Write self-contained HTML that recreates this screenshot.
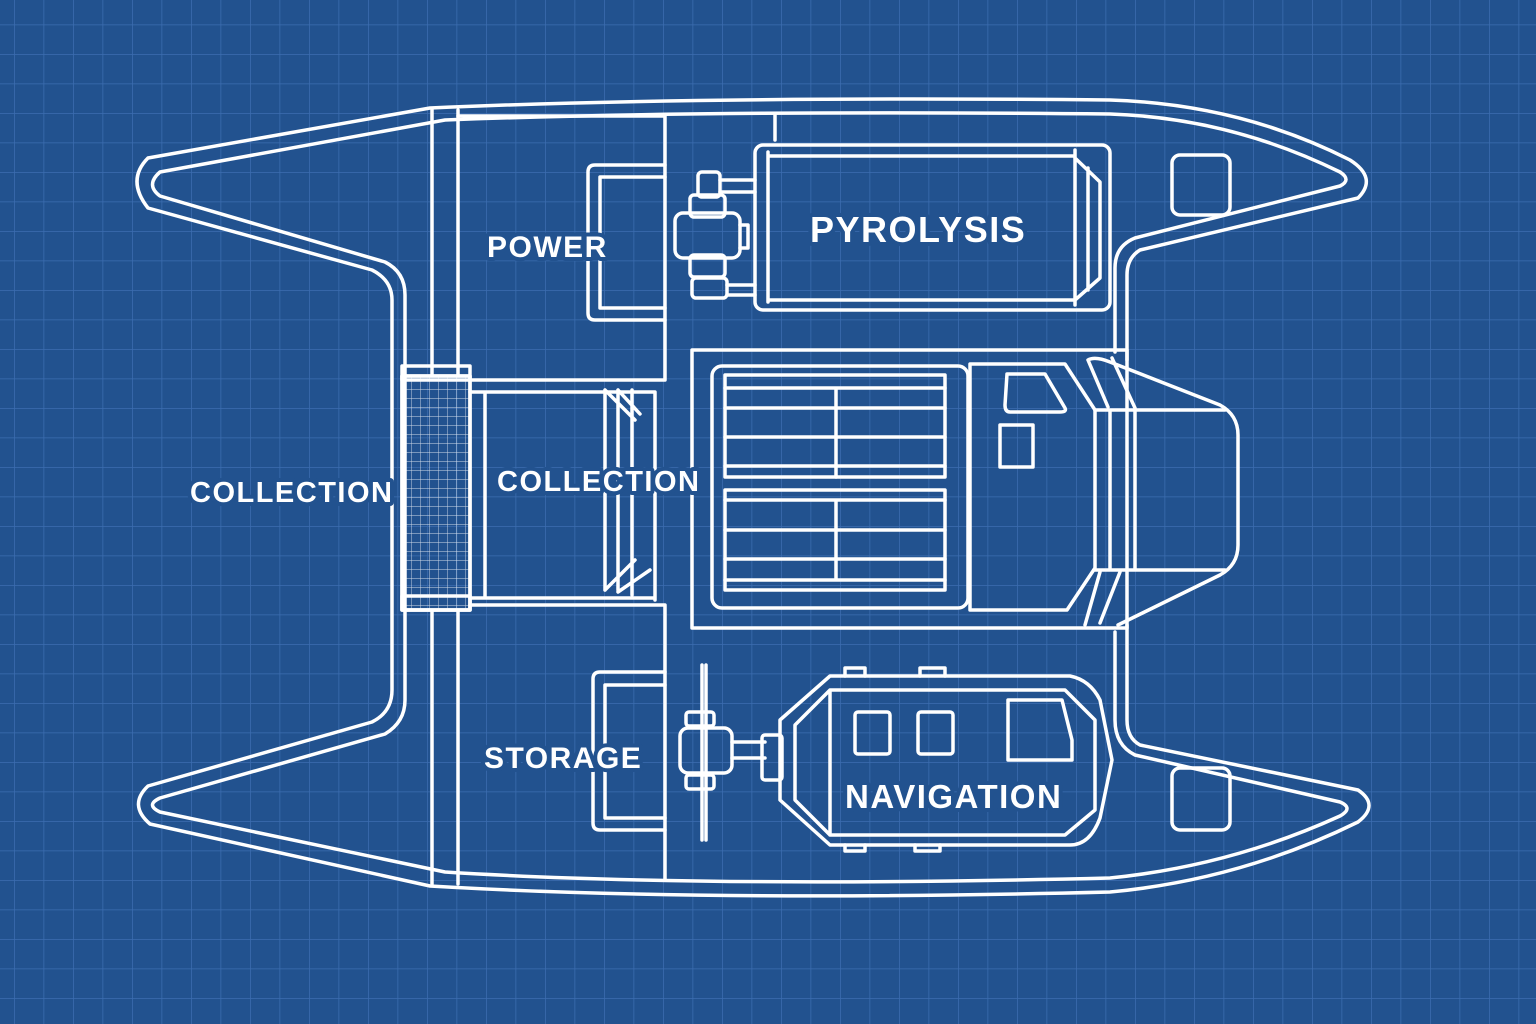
<!DOCTYPE html>
<html><head><meta charset="utf-8"><style>
html,body{margin:0;padding:0;background:#22528f;}
svg{display:block}
text{font-family:"Liberation Sans",sans-serif;font-weight:bold;fill:#fff;letter-spacing:1.5px;stroke:#22528f;stroke-width:8px;paint-order:stroke;stroke-linejoin:round}
</style></head><body>
<svg width="1536" height="1024" viewBox="0 0 1536 1024" xmlns="http://www.w3.org/2000/svg">
<defs>
<pattern id="g" x="14" y="-5" width="29.5" height="29.5" patternUnits="userSpaceOnUse">
<path d="M0 0V29.5M0 0H29.5" stroke="#3c6db0" stroke-width="1.5" fill="none"/>
</pattern>
<pattern id="m" x="402" y="380" width="9" height="9" patternUnits="userSpaceOnUse">
<path d="M0 0V9M0 0H9" stroke="#fff" stroke-width="0.9" fill="none" opacity="0.8"/>
</pattern>
</defs>
<rect width="1536" height="1024" fill="#22528f"/>
<rect width="1536" height="1024" fill="url(#g)"/>
<g fill="none" stroke="#fff" stroke-width="3.5" stroke-linejoin="round" stroke-linecap="round">
<path d="M1127 360 L1127 275 Q1127 258 1140 250 L1358 198 Q1378 178 1350 160 Q1240 104 1110 100 Q700 96 430 108 L148 158 Q126 180 148 208 L372 270 Q392 280 392 300 L392 690 Q392 712 372 722 L148 786 Q128 805 150 824 L430 886 Q700 902 1110 892 Q1240 880 1358 822 Q1380 805 1358 790 L1140 745 Q1127 738 1127 720 L1127 625"/>
<path d="M1115 352 L1115 268 Q1115 246 1135 238 L1340 186 Q1352 180 1340 172 Q1230 118 1110 114 Q700 110 445 120 L160 172 Q145 185 160 196 L385 262 Q405 272 405 295 L405 700 Q405 722 385 734 L160 798 Q145 805 160 812 L445 872 Q700 888 1110 878 Q1230 866 1340 816 Q1354 808 1340 802 L1135 755 Q1115 745 1115 720 L1115 632"/>
<path d="M432 110 V375 M458 110 V375 M432 612 V884 M458 612 V884"/>
<rect x="402" y="376" width="68" height="234" fill="url(#m)"/>
<rect x="402" y="376" width="68" height="234"/>
<rect x="402" y="366" width="68" height="14"/>
<rect x="402" y="596" width="68" height="14"/>
<path d="M665 115 V380 M775 115 V140 M458 116 H665 M470 380 H665 M470 392 H655 V600 M470 605 H665 V880 M485 392 V598 M470 598 H655"/>
<path d="M605 390 V590 M618 390 V590 M632 390 V595 M605 390 L635 420 M618 390 L640 414 M605 590 L635 560 M618 592 L650 570"/>
<path d="M665 165 H595 Q588 165 588 172 V313 Q588 320 595 320 H665 M665 177 H600 V308 H665"/>
<rect x="675" y="213" width="65" height="45" rx="8"/>
<rect x="690" y="195" width="35" height="22" rx="4"/>
<rect x="690" y="255" width="35" height="22" rx="4"/>
<rect x="698" y="172" width="22" height="25" rx="4"/>
<rect x="692" y="278" width="35" height="20" rx="4"/>
<path d="M720 180 H755 M720 192 H755 M727 285 H755 M727 295 H755 M740 225 H748 V248 H740"/>
<rect x="755" y="145" width="355" height="165" rx="8"/>
<path d="M768 152 V302 M768 156 H1075 M768 300 H1075 M1075 150 V305 M1075 158 L1100 182 V278 L1075 300 M1088 168 V290"/>
<rect x="1172" y="155" width="58" height="60" rx="8"/>
<rect x="1172" y="768" width="58" height="62" rx="8"/>
<rect x="692" y="350" width="435" height="278"/>
<rect x="712" y="366" width="256" height="242" rx="10"/>
<rect x="725" y="375" width="220" height="102"/>
<path d="M725 388 H945 M725 408 H945 M725 437 H945 M725 466 H945 M836 388 V477"/>
<rect x="725" y="490" width="220" height="100"/>
<path d="M725 500 H945 M725 530 H945 M725 559 H945 M725 580 H945 M836 500 V580"/>
<path d="M970 364 H1065 L1095 410 V568 L1067 610 H970 Z"/>
<path d="M1007 374 H1045 L1065 408 Q1067 412 1060 412 H1010 Q1005 412 1005 405 Z"/>
<rect x="1000" y="425" width="33" height="42"/>
<path d="M1095 410 H1225 M1095 570 H1225 M1110 410 V570 M1135 410 V570"/>
<path d="M1088 360 Q1095 356 1110 362 L1220 405 Q1238 415 1238 435 V545 Q1238 565 1220 575 L1118 625 M1088 360 L1108 407 M1112 358 L1135 408 M1085 625 L1100 572 M1100 623 L1120 572"/>
<path d="M665 672 H600 Q593 672 593 679 V823 Q593 830 600 830 H665 M665 685 H605 V818 H665"/>
<path d="M702 665 V840 M706 665 V840"/>
<rect x="686" y="712" width="28" height="14" rx="3"/>
<rect x="680" y="728" width="52" height="45" rx="8"/>
<rect x="686" y="775" width="28" height="14" rx="3"/>
<path d="M732 742 H765 M732 758 H765"/>
<rect x="762" y="735" width="20" height="45" rx="3"/>
<path d="M780 720 L830 676 H1070 Q1090 680 1100 700 L1112 760 L1100 818 Q1090 845 1070 845 H830 L780 800 Z"/>
<path d="M795 725 L830 690 H1065 L1095 720 V810 L1065 835 H830 L795 800 Z M830 690 V835"/>
<rect x="855" y="712" width="35" height="42" rx="3"/>
<rect x="918" y="712" width="35" height="42" rx="3"/>
<path d="M1008 700 H1062 L1072 740 V760 H1008 Z"/>
<path d="M845 676 V668 H865 V676 M920 676 V668 H945 V676 M845 845 V851 H865 V845 M915 845 V851 H940 V845"/>
</g>
<text x="487" y="257" font-size="30">POWER</text>
<text x="810" y="242" font-size="36">PYROLYSIS</text>
<text x="190" y="502" font-size="29">COLLECTION</text>
<text x="497" y="491" font-size="29">COLLECTION</text>
<text x="484" y="768" font-size="30">STORAGE</text>
<text x="845" y="808" font-size="33">NAVIGATION</text>
</svg>
</body></html>
